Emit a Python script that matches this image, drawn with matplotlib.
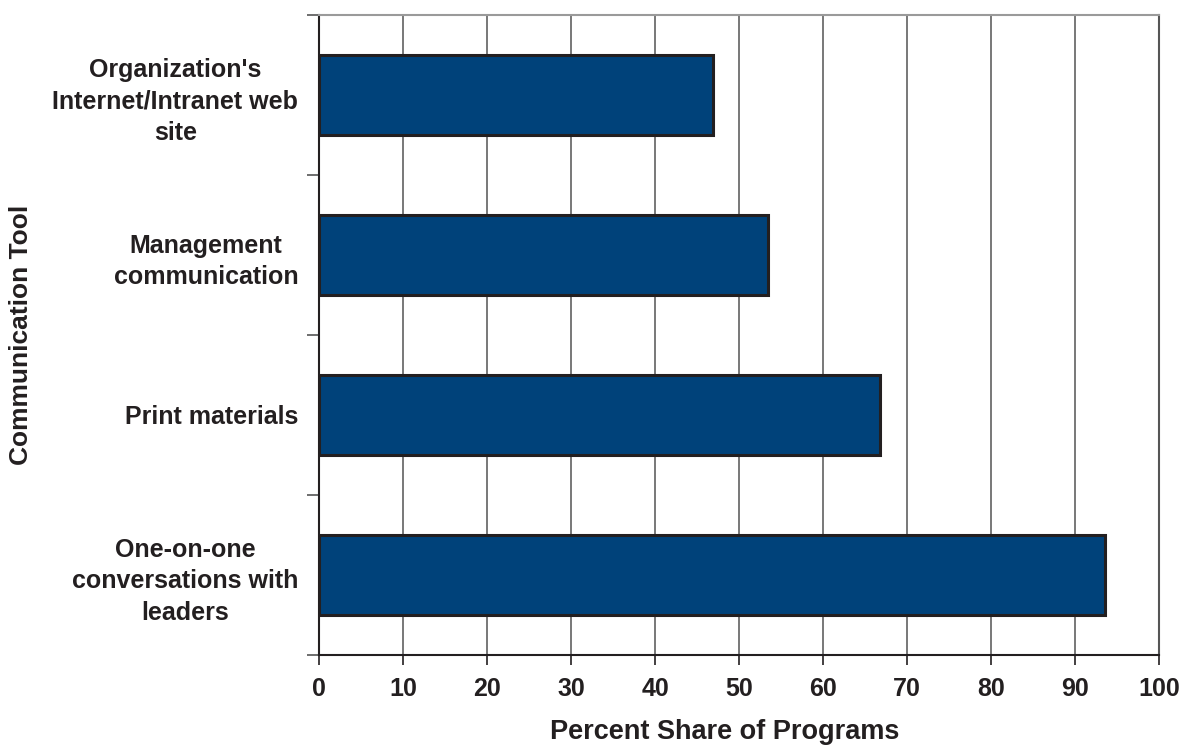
import matplotlib
matplotlib.use("Agg")
import matplotlib.pyplot as plt
from matplotlib.ticker import FixedLocator

plt.rcParams['font.family'] = ['Liberation Sans', 'DejaVu Sans']
plt.rcParams['font.weight'] = 'bold'

# Categories listed top to bottom
categories = [
    "Organization's\nInternet/Intranet web\nsite",
    "Management\ncommunication",
    "Print materials",
    "One-on-one\nconversations with\nleaders",
]
shares = [46.9, 53.4, 66.8, 93.6]
xticks = list(range(0, 101, 10))

W, H = 1183, 747
fig = plt.figure(figsize=(W / 100, H / 100), dpi=100)
ax = fig.add_axes([319 / W, 1 - 655 / H, (1159 - 319) / W, (655 - 15) / H])

ypos = list(range(len(categories)))
ax.barh(ypos, shares, height=0.5, color='#00427A', edgecolor='#231F20',
        linewidth=2.2, zorder=3)

ax.set_xlim(0, 100)
ax.set_ylim(len(categories) - 0.5, -0.5)

ax.set_xticks(xticks)
ax.set_xticklabels([str(t) for t in xticks], fontsize=18, fontweight='bold',
                   color='#231F20')
ax.tick_params(axis='x', direction='out', length=7, width=1.2,
               color='#231F20', pad=9)

ax.set_yticks(ypos)
ax.set_yticklabels(categories, fontsize=18, fontweight='bold', color='#231F20',
                   linespacing=1.4)
for lab in ax.get_yticklabels():
    lab.set_multialignment('center')
ax.tick_params(axis='y', which='major', length=0, pad=15)
ax.yaxis.set_minor_locator(FixedLocator([b - 0.5 for b in range(len(categories) + 1)]))
ax.tick_params(axis='y', which='minor', direction='out', length=9, width=1.2,
               color='#555555')

ax.grid(axis='x', color='#6d6d6d', linewidth=1.3, zorder=0)
ax.set_axisbelow(True)

for side in ['left', 'bottom']:
    ax.spines[side].set_color('#231F20')
    ax.spines[side].set_linewidth(1.5)
ax.spines['top'].set_color('#9a9a9a')
ax.spines['top'].set_linewidth(1.5)
ax.spines['right'].set_color('#555555')
ax.spines['right'].set_linewidth(1.5)

ax.set_xlabel('Percent Share of Programs', fontsize=19.5, fontweight='bold',
              color='#231F20', labelpad=14)
ax.xaxis.set_label_coords((725 - 319) / (1159 - 319), -(732 - 655) / (655 - 15))
ax.xaxis.label.set_va('center')
ax.set_ylabel('Communication Tool', fontsize=19, fontweight='bold',
              color='#231F20')
ax.yaxis.set_label_coords(-(319 - 33) / (1159 - 319), 0.5)

fig.savefig('out.png', dpi=100)
